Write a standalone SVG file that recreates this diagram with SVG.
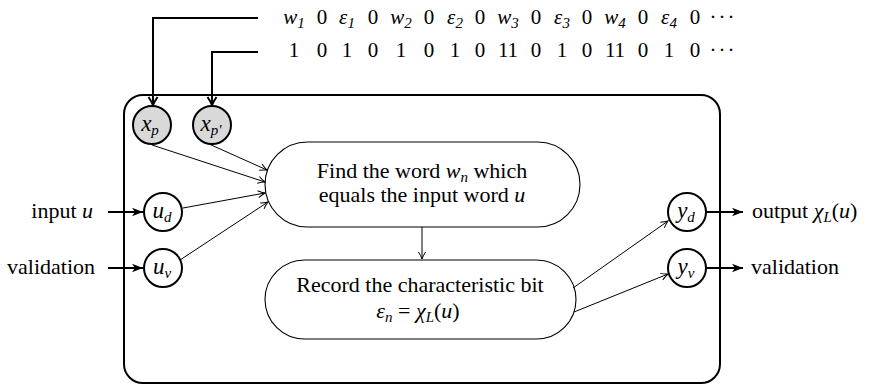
<svg xmlns="http://www.w3.org/2000/svg" width="869" height="385" viewBox="0 0 869 385">
<defs>
<marker id="to" viewBox="0 0 9 10" refX="8" refY="5" markerWidth="9" markerHeight="10" orient="auto" markerUnits="userSpaceOnUse">
<path d="M1,1.5 Q5,4 8,5 Q5,6 1,8.5" fill="none" stroke="#000" stroke-width="1"/>
</marker>
<marker id="vee" viewBox="0 0 11 12" refX="9.5" refY="6" markerWidth="11" markerHeight="12" orient="auto" markerUnits="userSpaceOnUse">
<path d="M1.5,1.5 Q6,4.5 9.5,6 Q6,7.5 1.5,10.5" fill="none" stroke="#000" stroke-width="2"/>
</marker>
<marker id="stealth" viewBox="0 0 12 10" refX="11" refY="5" markerWidth="12" markerHeight="10" orient="auto" markerUnits="userSpaceOnUse">
<path d="M0,0.8 L11,5 L0,9.2 L3,5 Z" fill="#000"/>
</marker>
</defs>

<g id="container">
<rect x="124" y="95" width="596" height="288" rx="19" ry="19" fill="none" stroke="#000" stroke-width="2"/>
</g>

<g id="tape">
<text font-family="Liberation Serif" style="font-family:'Liberation Serif'" font-size="21" text-anchor="middle" y="24"><tspan x="294" font-style="italic">w<tspan font-size="15" dy="4">1</tspan></tspan></text>
<text font-family="Liberation Serif" style="font-family:'Liberation Serif'" font-size="21" text-anchor="middle" y="24"><tspan x="322">0</tspan><tspan x="373">0</tspan><tspan x="429">0</tspan><tspan x="480">0</tspan><tspan x="536">0</tspan><tspan x="587">0</tspan><tspan x="643">0</tspan><tspan x="695">0</tspan><tspan x="723" letter-spacing="2">···</tspan></text>
<text font-family="Liberation Serif" style="font-family:'Liberation Serif'" font-size="21" text-anchor="middle" y="24"><tspan x="347" font-style="italic">ε<tspan font-size="15" dy="4">1</tspan></tspan></text>
<text font-family="Liberation Serif" style="font-family:'Liberation Serif'" font-size="21" text-anchor="middle" y="24"><tspan x="401" font-style="italic">w<tspan font-size="15" dy="4">2</tspan></tspan></text>
<text font-family="Liberation Serif" style="font-family:'Liberation Serif'" font-size="21" text-anchor="middle" y="24"><tspan x="455" font-style="italic">ε<tspan font-size="15" dy="4">2</tspan></tspan></text>
<text font-family="Liberation Serif" style="font-family:'Liberation Serif'" font-size="21" text-anchor="middle" y="24"><tspan x="508" font-style="italic">w<tspan font-size="15" dy="4">3</tspan></tspan></text>
<text font-family="Liberation Serif" style="font-family:'Liberation Serif'" font-size="21" text-anchor="middle" y="24"><tspan x="562" font-style="italic">ε<tspan font-size="15" dy="4">3</tspan></tspan></text>
<text font-family="Liberation Serif" style="font-family:'Liberation Serif'" font-size="21" text-anchor="middle" y="24"><tspan x="615" font-style="italic">w<tspan font-size="15" dy="4">4</tspan></tspan></text>
<text font-family="Liberation Serif" style="font-family:'Liberation Serif'" font-size="21" text-anchor="middle" y="24"><tspan x="669" font-style="italic">ε<tspan font-size="15" dy="4">4</tspan></tspan></text>
<text font-family="Liberation Serif" style="font-family:'Liberation Serif'" font-size="21" text-anchor="middle" y="57"><tspan x="294">1</tspan><tspan x="322">0</tspan><tspan x="347">1</tspan><tspan x="373">0</tspan><tspan x="401">1</tspan><tspan x="429">0</tspan><tspan x="455">1</tspan><tspan x="480">0</tspan><tspan x="508">11</tspan><tspan x="536">0</tspan><tspan x="562">1</tspan><tspan x="587">0</tspan><tspan x="615">11</tspan><tspan x="643">0</tspan><tspan x="669">1</tspan><tspan x="695">0</tspan><tspan x="723" letter-spacing="2">···</tspan></text>
</g>

<g id="xp">
<circle cx="152" cy="125" r="19" fill="#d9d9d9" stroke="#000" stroke-width="2"/>
<text x="150" y="131" text-anchor="middle" font-family="Liberation Serif" style="font-family:'Liberation Serif'" font-size="23" font-style="italic">x<tspan font-size="15" dy="4">p</tspan></text>
</g>
<g id="xp2">
<circle cx="212" cy="125" r="19" fill="#d9d9d9" stroke="#000" stroke-width="2"/>
<text x="211" y="131" text-anchor="middle" font-family="Liberation Serif" style="font-family:'Liberation Serif'" font-size="23" font-style="italic">x<tspan font-size="15" dy="4">p'</tspan></text>
</g>
<g id="ud">
<circle cx="163" cy="212" r="19" fill="#fff" stroke="#000" stroke-width="2"/>
<text x="162" y="218" text-anchor="middle" font-family="Liberation Serif" style="font-family:'Liberation Serif'" font-size="23" font-style="italic">u<tspan font-size="15" dy="4">d</tspan></text>
</g>
<g id="uv">
<circle cx="163" cy="268" r="19" fill="#fff" stroke="#000" stroke-width="2"/>
<text x="162" y="274" text-anchor="middle" font-family="Liberation Serif" style="font-family:'Liberation Serif'" font-size="23" font-style="italic">u<tspan font-size="15" dy="4">v</tspan></text>
</g>
<g id="yd">
<circle cx="687" cy="212" r="19" fill="#fff" stroke="#000" stroke-width="2"/>
<text x="686" y="218" text-anchor="middle" font-family="Liberation Serif" style="font-family:'Liberation Serif'" font-size="23" font-style="italic">y<tspan font-size="15" dy="4">d</tspan></text>
</g>
<g id="yv">
<circle cx="687" cy="268" r="19" fill="#fff" stroke="#000" stroke-width="2"/>
<text x="686" y="274" text-anchor="middle" font-family="Liberation Serif" style="font-family:'Liberation Serif'" font-size="23" font-style="italic">y<tspan font-size="15" dy="4">v</tspan></text>
</g>

<g id="find">
<rect x="265" y="142" width="315" height="85" rx="42.5" ry="42.5" fill="#fff" stroke="#000" stroke-width="1.1"/>
<text x="422" y="178" text-anchor="middle" font-family="Liberation Serif" style="font-family:'Liberation Serif'" font-size="22">Find the word <tspan font-style="italic">w</tspan><tspan font-style="italic" font-size="15" dy="4">n</tspan><tspan dy="-4"> which</tspan></text>
<text x="422" y="202" text-anchor="middle" font-family="Liberation Serif" style="font-family:'Liberation Serif'" font-size="22">equals the input word <tspan font-style="italic">u</tspan></text>
</g>
<g id="record">
<rect x="265" y="260" width="311" height="79" rx="39.5" ry="39.5" fill="#fff" stroke="#000" stroke-width="1.1"/>
<text x="420" y="292" text-anchor="middle" font-family="Liberation Serif" style="font-family:'Liberation Serif'" font-size="22">Record the characteristic bit</text>
<text x="418" y="318" text-anchor="middle" font-family="Liberation Serif" style="font-family:'Liberation Serif'" font-size="22"><tspan font-style="italic">ε</tspan><tspan font-style="italic" font-size="15" dy="4">n</tspan><tspan dy="-4"> = </tspan><tspan font-style="italic">χ</tspan><tspan font-style="italic" font-size="15" dy="4">L</tspan><tspan dy="-4">(</tspan><tspan font-style="italic">u</tspan>)</text>
</g>

<g id="labels">
<text x="93" y="218" text-anchor="end" font-family="Liberation Serif" style="font-family:'Liberation Serif'" font-size="22">input <tspan font-style="italic">u</tspan></text>
<text x="95" y="274" text-anchor="end" font-family="Liberation Serif" style="font-family:'Liberation Serif'" font-size="22">validation</text>
<text x="752" y="218" font-family="Liberation Serif" style="font-family:'Liberation Serif'" font-size="22">output <tspan font-style="italic">χ</tspan><tspan font-style="italic" font-size="15" dy="4">L</tspan><tspan dy="-4">(</tspan><tspan font-style="italic">u</tspan>)</text>
<text x="751" y="274" font-family="Liberation Serif" style="font-family:'Liberation Serif'" font-size="22">validation</text>
</g>

<g id="connectors" fill="none" stroke="#000">
<g stroke-width="2">
<path d="M258,18 H153 V105" marker-end="url(#vee)"/>
<path d="M258,52 H212 V105" marker-end="url(#vee)"/>
<path d="M108,212 H143" marker-end="url(#stealth)"/>
<path d="M108,268 H143" marker-end="url(#stealth)"/>
<path d="M706,212 H743" marker-end="url(#stealth)"/>
<path d="M706,268 H743" marker-end="url(#stealth)"/>
</g>
<g stroke-width="1">
<path d="M152,145 L265,182" marker-end="url(#to)"/>
<path d="M209,144 L267,170" marker-end="url(#to)"/>
<path d="M183,208 L265,193" marker-end="url(#to)"/>
<path d="M180,260 L268,202" marker-end="url(#to)"/>
<path d="M422,227 V259" marker-end="url(#to)"/>
<path d="M573,288 L668,221" marker-end="url(#to)"/>
<path d="M574,312 L668,274" marker-end="url(#to)"/>
</g>
</g>
</svg>
